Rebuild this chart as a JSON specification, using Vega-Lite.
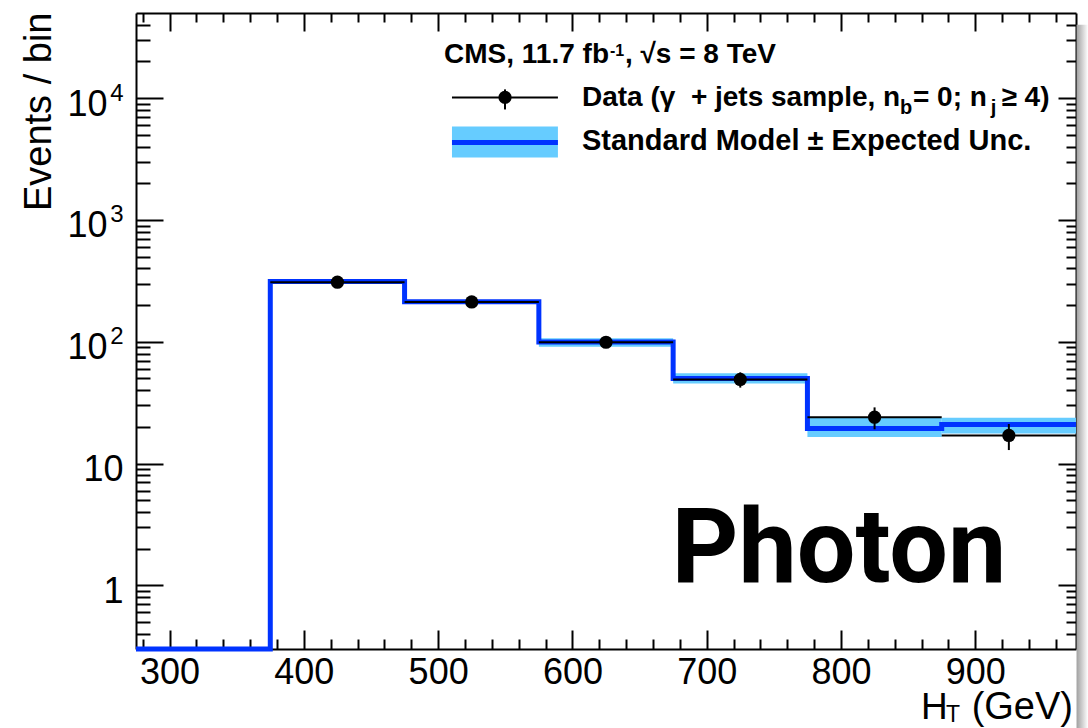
{
  "$schema": "https://vega.github.io/schema/vega-lite/v6.json",
  "width": 940,
  "height": 636,
  "autosize": {"type": "none"},
  "padding": {"left": 136, "top": 13, "right": 12, "bottom": 79},
  "background": "white",
  "config": {
    "view": {"stroke": null},
    "axis": {
      "grid": false,
      "domainColor": "black",
      "domainWidth": 2,
      "tickColor": "black",
      "tickWidth": 2,
      "labelFont": "Liberation Sans",
      "labelFontSize": 36,
      "labelColor": "black",
      "labelFlush": false,
      "labelOverlap": false,
      "titleFont": "Liberation Sans",
      "titleColor": "black",
      "titleFontWeight": "normal"
    },
    "text": {"font": "Liberation Sans", "color": "black"}
  },
  "datasets": {
    "sm": [
      {"lo": 275, "hi": 375, "sm": 0.3, "dn": null, "up": null},
      {"lo": 375, "hi": 475, "sm": 312, "dn": 302, "up": 322},
      {"lo": 475, "hi": 575, "sm": 213, "dn": 206, "up": 220},
      {"lo": 575, "hi": 675, "sm": 99.6, "dn": 91, "up": 107},
      {"lo": 675, "hi": 775, "sm": 50, "dn": 45.3, "up": 55},
      {"lo": 775, "hi": 875, "sm": 19.4, "dn": 16.5, "up": 23.6},
      {"lo": 875, "hi": 975, "sm": 20.9, "dn": 17.6, "up": 23.8}
    ],
    "obs": [
      {"c": 425, "lo": 375, "hi": 475, "n": 308, "elo": 290.5, "ehi": 325.5},
      {"c": 525, "lo": 475, "hi": 575, "n": 212, "elo": 197.4, "ehi": 226.6},
      {"c": 625, "lo": 575, "hi": 675, "n": 99, "elo": 89, "ehi": 109},
      {"c": 725, "lo": 675, "hi": 775, "n": 49, "elo": 42, "ehi": 56},
      {"c": 825, "lo": 775, "hi": 875, "n": 24, "elo": 19.1, "ehi": 28.9},
      {"c": 925, "lo": 875, "hi": 975, "n": 17, "elo": 12.9, "ehi": 21.1}
    ],
    "one": [{}]
  },
  "resolve": {"axis": {"x": "independent", "y": "independent"}},
  "layer": [
    {
      "data": {"name": "sm"},
      "transform": [{"filter": "isValid(datum.dn)"}],
      "mark": {"type": "rect", "color": "#66ccff"},
      "encoding": {
        "x": {
          "field": "lo", "type": "quantitative",
          "scale": {"type": "linear", "domain": [275, 975], "nice": false, "zero": false},
          "axis": {"orient": "bottom", "title": null, "values": [300, 400, 500, 600, 700, 800, 900],
                   "tickSize": -19, "labelPadding": 53, "labelBaseline": "alphabetic", "domain": true}
        },
        "x2": {"field": "hi"},
        "y": {
          "field": "dn", "type": "quantitative",
          "scale": {"type": "log", "domain": [0.3, 50000], "nice": false},
          "axis": {"orient": "left", "values": [1, 10, 100, 1000, 10000],
                   "tickSize": -27, "labelPadding": 40, "labelBaseline": "alphabetic", "labelOffset": 17,
                   "labelExpr": "datum.value <= 10 ? datum.label : ''", "domain": true,
                   "title": "Events / bin", "titleFontSize": 38, "titleAngle": -90, "titleAlign": "right",
                   "titleBaseline": "alphabetic", "titleX": -86, "titleY": -1}
        },
        "y2": {"field": "up"}
      }
    },
    {
      "data": {"name": "sm"},
      "transform": [{"fold": ["lo", "hi"], "as": ["edge", "x"]}],
      "mark": {"type": "line", "color": "#0033ff", "strokeWidth": 5, "strokeJoin": "miter", "clip": false},
      "encoding": {
        "x": {
          "field": "x", "type": "quantitative",
          "axis": {"orient": "bottom", "title": null, "labels": false, "domain": false, "tickSize": -10,
                   "values": [280, 320, 340, 360, 380, 420, 440, 460, 480, 520, 540, 560, 580, 620, 640, 660, 680, 720, 740, 760, 780, 820, 840, 860, 880, 920, 940, 960]}
        },
        "y": {
          "field": "sm", "type": "quantitative",
          "axis": {"orient": "left", "title": null, "labels": false, "domain": false, "tickSize": -14,
                   "values": [0.4, 0.5, 0.6, 0.7, 0.8, 0.9, 2, 3, 4, 5, 6, 7, 8, 9, 20, 30, 40, 50, 60, 70, 80, 90, 200, 300, 400, 500, 600, 700, 800, 900, 2000, 3000, 4000, 5000, 6000, 7000, 8000, 9000, 20000, 30000, 40000]}
        },
        "order": [{"field": "x", "type": "quantitative"}, {"field": "edge", "type": "ordinal"}]
      }
    },
    {
      "data": {"name": "obs"},
      "mark": {"type": "rule", "color": "black", "strokeWidth": 2},
      "encoding": {
        "x": {
          "field": "lo", "type": "quantitative",
          "axis": {"orient": "top", "title": null, "labels": false, "domain": true, "tickSize": -18,
                   "values": [300, 400, 500, 600, 700, 800, 900]}
        },
        "x2": {"field": "hi"},
        "y": {
          "field": "n", "type": "quantitative",
          "axis": {"orient": "right", "title": null, "labels": false, "domain": true, "tickSize": -18,
                   "values": [1, 10, 100, 1000, 10000]}
        }
      }
    },
    {
      "data": {"name": "obs"},
      "mark": {"type": "rule", "color": "black", "strokeWidth": 2},
      "encoding": {
        "x": {
          "field": "c", "type": "quantitative",
          "axis": {"orient": "top", "title": null, "labels": false, "domain": false, "tickSize": -9,
                   "values": [280, 320, 340, 360, 380, 420, 440, 460, 480, 520, 540, 560, 580, 620, 640, 660, 680, 720, 740, 760, 780, 820, 840, 860, 880, 920, 940, 960]}
        },
        "y": {
          "field": "elo", "type": "quantitative",
          "axis": {"orient": "right", "title": null, "labels": false, "domain": false, "tickSize": -10,
                   "values": [0.4, 0.5, 0.6, 0.7, 0.8, 0.9, 2, 3, 4, 5, 6, 7, 8, 9, 20, 30, 40, 50, 60, 70, 80, 90, 200, 300, 400, 500, 600, 700, 800, 900, 2000, 3000, 4000, 5000, 6000, 7000, 8000, 9000, 20000, 30000, 40000]}
        },
        "y2": {"field": "ehi"}
      }
    },
    {
      "data": {"name": "obs"},
      "mark": {"type": "point", "shape": "circle", "filled": true, "color": "black", "size": 175, "opacity": 1},
      "encoding": {
        "x": {"field": "c", "type": "quantitative", "axis": null},
        "y": {
          "field": "n", "type": "quantitative",
          "axis": {"orient": "left", "title": null, "ticks": false, "domain": false,
                   "values": [100, 1000, 10000], "labelExpr": "'10'",
                   "labelPadding": 29, "labelBaseline": "alphabetic", "labelOffset": 17}
        }
      }
    },
    {
      "data": {"name": "one"},
      "mark": {"type": "text", "text": "Photon", "font": "Roboto", "fontWeight": "bold", "fontSize": 104, "align": "center", "baseline": "alphabetic"},
      "encoding": {
        "x": {"datum": 798.4, "type": "quantitative", "axis": null},
        "y": {
          "datum": 1.06, "type": "quantitative",
          "axis": {"orient": "left", "title": null, "ticks": false, "domain": false,
                   "values": [100, 1000, 10000],
                   "labelExpr": "datum.value == 100 ? '2' : datum.value == 1000 ? '3' : '4'",
                   "labelFontSize": 24, "labelPadding": 13, "labelBaseline": "alphabetic", "labelOffset": 2}
        }
      }
    },
    {
      "data": {"name": "one"},
      "mark": {"type": "rect", "clip": false, "color": {"gradient": "linear", "x1": 0, "y1": 0, "x2": 1, "y2": 0, "stops": [{"offset": 0, "color": "#a0a0a0"}, {"offset": 1, "color": "#ffffff"}]}},
      "encoding": {
        "x": {"datum": 975.4, "type": "quantitative", "axis": null},
        "x2": {"datum": 984},
        "y": {"datum": 40000, "type": "quantitative", "axis": null},
        "y2": {"datum": 0.066}
      }
    },
    {
      "data": {"name": "one"},
      "mark": {"type": "rect", "color": "#66ccff"},
      "encoding": {
        "x": {"datum": 510.3, "type": "quantitative", "axis": null},
        "x2": {"datum": 589.2},
        "y": {"datum": 5850, "type": "quantitative", "axis": null},
        "y2": {"datum": 3251}
      }
    },
    {
      "data": {"name": "one"},
      "mark": {"type": "rule", "color": "#0033ff", "strokeWidth": 5},
      "encoding": {
        "x": {"datum": 510.3, "type": "quantitative", "axis": null},
        "x2": {"datum": 589.2},
        "y": {"datum": 4315, "type": "quantitative", "axis": null}
      }
    },
    {
      "data": {"name": "one"},
      "mark": {"type": "rule", "color": "black", "strokeWidth": 2},
      "encoding": {
        "x": {"datum": 510.3, "type": "quantitative", "axis": null},
        "x2": {"datum": 589.2},
        "y": {"datum": 10134, "type": "quantitative", "axis": null}
      }
    },
    {
      "data": {"name": "one"},
      "mark": {"type": "rule", "color": "black", "strokeWidth": 2},
      "encoding": {
        "x": {"datum": 549.8, "type": "quantitative", "axis": null},
        "y": {"datum": 11794, "type": "quantitative", "axis": null},
        "y2": {"datum": 8072}
      }
    },
    {
      "data": {"name": "one"},
      "mark": {"type": "point", "shape": "circle", "filled": true, "color": "black", "size": 175, "opacity": 1},
      "encoding": {
        "x": {"datum": 549.8, "type": "quantitative", "axis": null},
        "y": {"datum": 10134, "type": "quantitative", "axis": null}
      }
    },
    {
      "data": {"name": "one"},
      "mark": {"type": "text", "text": "CMS, 11.7 fb", "fontWeight": "bold", "fontSize": 28, "align": "left", "baseline": "alphabetic"},
      "encoding": {
        "x": {"datum": 504.4, "type": "quantitative", "axis": null},
        "y": {"datum": 19490, "type": "quantitative", "axis": null}
      }
    },
    {
      "data": {"name": "one"},
      "mark": {"type": "text", "text": "-1", "fontWeight": "bold", "fontSize": 16, "align": "left", "baseline": "alphabetic"},
      "encoding": {
        "x": {"datum": 628.0, "type": "quantitative", "axis": null},
        "y": {"datum": 22040, "type": "quantitative", "axis": null}
      }
    },
    {
      "data": {"name": "one"},
      "mark": {"type": "text", "text": ", √s = 8 TeV", "fontWeight": "bold", "fontSize": 28, "align": "left", "baseline": "alphabetic"},
      "encoding": {
        "x": {"datum": 639.1, "type": "quantitative", "axis": null},
        "y": {"datum": 19490, "type": "quantitative", "axis": null}
      }
    },
    {
      "data": {"name": "one"},
      "mark": {"type": "text", "text": "Data (γ\u00a0 + jets sample, n", "fontWeight": "bold", "fontSize": 28, "align": "left", "baseline": "alphabetic"},
      "encoding": {
        "x": {"datum": 607.1, "type": "quantitative", "axis": null},
        "y": {"datum": 8544, "type": "quantitative", "axis": null}
      }
    },
    {
      "data": {"name": "one"},
      "mark": {"type": "text", "text": "b", "fontWeight": "bold", "fontSize": 20, "align": "left", "baseline": "alphabetic"},
      "encoding": {
        "x": {"datum": 843.9, "type": "quantitative", "axis": null},
        "y": {"datum": 7342, "type": "quantitative", "axis": null}
      }
    },
    {
      "data": {"name": "one"},
      "mark": {"type": "text", "text": "= 0; n", "fontWeight": "bold", "fontSize": 28, "align": "left", "baseline": "alphabetic"},
      "encoding": {
        "x": {"datum": 853.6, "type": "quantitative", "axis": null},
        "y": {"datum": 8544, "type": "quantitative", "axis": null}
      }
    },
    {
      "data": {"name": "one"},
      "mark": {"type": "text", "text": "j", "fontWeight": "bold", "fontSize": 20, "align": "left", "baseline": "alphabetic"},
      "encoding": {
        "x": {"datum": 911.5, "type": "quantitative", "axis": null},
        "y": {"datum": 7342, "type": "quantitative", "axis": null}
      }
    },
    {
      "data": {"name": "one"},
      "mark": {"type": "text", "text": "≥ 4)", "fontWeight": "bold", "fontSize": 28, "align": "left", "baseline": "alphabetic"},
      "encoding": {
        "x": {"datum": 919.5, "type": "quantitative", "axis": null},
        "y": {"datum": 8544, "type": "quantitative", "axis": null}
      }
    },
    {
      "data": {"name": "one"},
      "mark": {"type": "text", "text": "Standard Model ± Expected Unc.", "fontWeight": "bold", "fontSize": 29, "align": "left", "baseline": "alphabetic"},
      "encoding": {
        "x": {"datum": 607.1, "type": "quantitative", "axis": null},
        "y": {"datum": 3782, "type": "quantitative", "axis": null}
      }
    },
    {
      "data": {"name": "one"},
      "mark": {"type": "text", "text": "H", "fontSize": 37, "align": "left", "baseline": "alphabetic", "dx": -155, "dy": 70},
      "encoding": {
        "x": {"datum": 975, "type": "quantitative", "axis": null},
        "y": {"datum": 0.3, "type": "quantitative", "axis": null}
      }
    },
    {
      "data": {"name": "one"},
      "mark": {"type": "text", "text": "T", "fontSize": 23, "align": "left", "baseline": "alphabetic", "dx": -130, "dy": 73},
      "encoding": {
        "x": {"datum": 975, "type": "quantitative", "axis": null},
        "y": {"datum": 0.3, "type": "quantitative", "axis": null}
      }
    },
    {
      "data": {"name": "one"},
      "mark": {"type": "text", "text": "(GeV)", "fontSize": 38, "align": "right", "baseline": "alphabetic", "dx": -3, "dy": 70},
      "encoding": {
        "x": {"datum": 975, "type": "quantitative", "axis": null},
        "y": {"datum": 0.3, "type": "quantitative", "axis": null}
      }
    }
  ]
}
